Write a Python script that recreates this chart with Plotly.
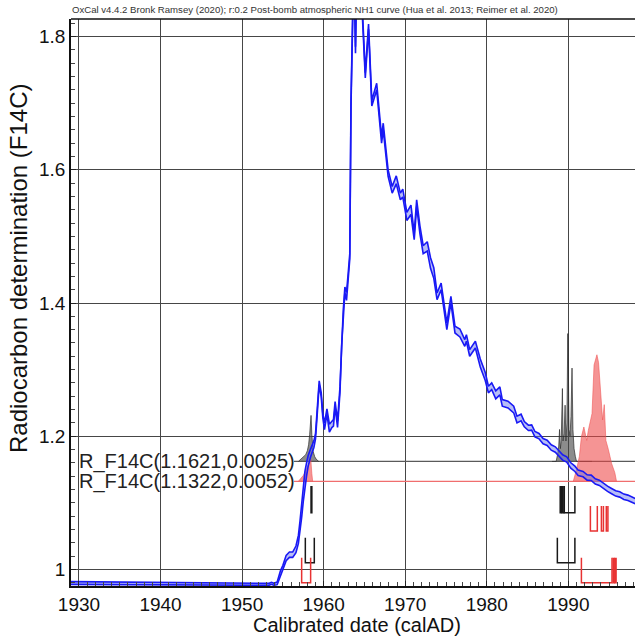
import plotly.graph_objects as go

# ---------------- data ----------------
curve_years = [1929.0, 1935.0, 1940.0, 1945.0, 1950.0, 1952.0, 1953.3, 1953.6, 1953.9, 1954.3,
               1954.7, 1955.0, 1955.4, 1955.8, 1956.2, 1956.6, 1956.9, 1957.1, 1957.3, 1957.5,
               1957.7, 1957.9, 1958.1, 1958.4, 1958.8, 1959.0, 1959.2, 1959.45, 1959.7, 1959.9,
               1960.1, 1960.4, 1960.7, 1961.0, 1961.2, 1961.4, 1961.7, 1962.0, 1962.2, 1962.4,
               1962.6, 1962.8, 1963.0, 1963.2, 1963.35, 1963.5, 1963.7, 1963.9, 1964.1, 1964.5,
               1964.8, 1965.1, 1965.5, 1965.9, 1966.5, 1967.1, 1967.3, 1967.9, 1968.4, 1968.9,
               1969.4, 1969.7, 1970.2, 1970.7, 1971.1, 1971.4, 1971.8, 1972.2, 1972.7, 1973.1,
               1973.5, 1973.9, 1974.4, 1975.1, 1975.6, 1976.1, 1976.7, 1977.3, 1977.5, 1977.9,
               1978.6, 1979.2, 1979.8, 1980.2, 1980.6, 1981.1, 1981.6, 1981.9, 1982.6, 1983.3,
               1983.7, 1984.2, 1984.6, 1985.1, 1985.5, 1985.9, 1986.4, 1986.9, 1987.4, 1987.9,
               1988.4, 1988.8, 1989.3, 1989.8, 1990.3, 1990.8, 1991.2, 1991.8, 1992.3, 1992.8,
               1993.3, 1993.8, 1994.3, 1994.8, 1995.3, 1995.8, 1996.3, 1996.8, 1997.3, 1998.2]
curve_f14c = [0.9795, 0.979, 0.9785, 0.978, 0.9775, 0.977, 0.9775, 0.979, 0.9775, 0.979,
              0.995, 1.003, 1.017, 1.022, 1.022, 1.030, 1.045, 1.065, 1.090, 1.115,
              1.135, 1.150, 1.163, 1.175, 1.188, 1.200, 1.235, 1.280, 1.262, 1.230,
              1.215, 1.237, 1.212, 1.218, 1.220, 1.248, 1.218, 1.270, 1.340, 1.385,
              1.420, 1.410, 1.440, 1.470, 1.700, 1.880, 1.920, 1.780, 1.930, 1.900,
              1.830, 1.742, 1.815, 1.700, 1.725, 1.645, 1.665, 1.595, 1.570, 1.585,
              1.560, 1.565, 1.530, 1.540, 1.500, 1.550, 1.510, 1.480, 1.485, 1.460,
              1.445, 1.410, 1.425, 1.365, 1.405, 1.360, 1.355, 1.340, 1.3475, 1.325,
              1.3375, 1.310, 1.290, 1.270, 1.275, 1.262, 1.268, 1.250, 1.2475, 1.240,
              1.225, 1.228, 1.218, 1.2125, 1.213, 1.203, 1.200, 1.1925, 1.190, 1.183,
              1.180, 1.174, 1.168, 1.165, 1.156, 1.151, 1.145, 1.143, 1.138, 1.1375,
              1.132, 1.130, 1.125, 1.121, 1.1175, 1.114, 1.1125, 1.109, 1.1075, 1.1025]
curve_sigma = [0.002, 0.002, 0.002, 0.0015, 0.0015, 0.0015, 0.0015, 0.0015, 0.0015, 0.002,
               0.003, 0.003, 0.004, 0.004, 0.004, 0.005, 0.006, 0.008, 0.012, 0.013,
               0.012, 0.010, 0.008, 0.006, 0.005, 0.004, 0.004, 0.003, 0.003, 0.003,
               0.005, 0.004, 0.006, 0.005, 0.005, 0.004, 0.005, 0.004, 0.004, 0.004,
               0.004, 0.006, 0.004, 0.004, 0.005, 0.005, 0.005, 0.005, 0.005, 0.005,
               0.005, 0.004, 0.004, 0.004, 0.005, 0.005, 0.005, 0.005, 0.005, 0.006,
               0.005, 0.006, 0.006, 0.007, 0.005, 0.005, 0.006, 0.006, 0.007, 0.008,
               0.008, 0.005, 0.005, 0.005, 0.005, 0.005, 0.006, 0.005, 0.005, 0.005,
               0.005, 0.006, 0.006, 0.005, 0.005, 0.006, 0.006, 0.005, 0.005, 0.005,
               0.005, 0.005, 0.004, 0.004, 0.004, 0.004, 0.004, 0.004, 0.004, 0.004,
               0.004, 0.004, 0.004, 0.004, 0.004, 0.004, 0.004, 0.004, 0.004, 0.004,
               0.004, 0.004, 0.004, 0.004, 0.004, 0.004, 0.004, 0.004, 0.004, 0.004]

title_text = ("OxCal v4.4.2 Bronk Ramsey (2020); r:0.2 Post-bomb atmospheric NH1 curve "
              "(Hua et al. 2013; Reimer et al. 2020)")
x_title = "Calibrated date (calAD)"
y_title = "Radiocarbon determination (F14C)"

s1_label = "R_F14C(1.1621,0.0025)"
s1_value = 1.1621
s2_label = "R_F14C(1.1322,0.0052)"
s2_value = 1.1322

# calibrated probability (relative to the tallest peak)
s1_dist_a_years = [1956.9, 1957.2, 1957.5, 1957.8, 1958.0, 1958.15, 1958.28, 1958.38, 1958.45,
                   1958.55, 1958.7, 1958.9, 1959.1, 1959.4]
s1_dist_a_prob = [0, 0.016, 0.032, 0.053, 0.084, 0.13, 0.21, 0.32, 0.36, 0.21, 0.08, 0.037, 0.016, 0]
s1_dist_b_years = [1988.0, 1988.5, 1988.7, 1988.82, 1988.92, 1989.02, 1989.12, 1989.22, 1989.27,
                   1989.35, 1989.48, 1989.6, 1989.7, 1989.82, 1989.93, 1989.98, 1990.08, 1990.2,
                   1990.32, 1990.45, 1990.56, 1990.7, 1990.85, 1991.0, 1992.9]
s1_dist_b_prob = [0, 0, 0.06, 0.12, 0.25, 0.10, 0.16, 0.45, 0.57, 0.16, 0.22, 0.44, 0.16, 0.30,
                  1.0, 0.85, 0.25, 0.20, 0.35, 0.73, 0.25, 0.10, 0.04, 0, 0]

s2_dist_a_years = [1956.9, 1957.2, 1957.5, 1957.8, 1958.05, 1958.3, 1958.42, 1958.55, 1958.65]
s2_dist_a_prob = [0, 0.02, 0.046, 0.082, 0.123, 0.164, 0.174, 0.06, 0]
s2_dist_b_years = [1990.6, 1991.0, 1991.35, 1991.6, 1991.9, 1992.25, 1992.45, 1992.9, 1993.15,
                   1993.5, 1993.7, 1993.95, 1994.2, 1994.4, 1994.6, 1994.9, 1995.3, 1995.7, 1995.9]
s2_dist_b_prob = [0, 0.092, 0.195, 0.35, 0.425, 0.32, 0.40, 0.53, 0.91, 0.99, 0.93, 0.66, 0.48,
                  0.60, 0.32, 0.25, 0.14, 0.067, 0]

# calibrated ranges (calAD)
s1_range68 = [(1958.45, 1958.55), (1989.0, 1989.15), (1989.25, 1989.45), (1989.5, 1990.8)]
s1_range95 = [(1957.75, 1958.85), (1988.65, 1990.8)]
s2_range68 = [(1992.7, 1993.55), (1994.05, 1994.3), (1994.65, 1994.85)]
s2_range95 = [(1957.3, 1958.4), (1991.6, 1995.35), (1995.5, 1995.6), (1995.7, 1995.85)]

# ---------------- styling / layout constants ----------------
X_RANGE = [1929.02, 1998.17]
Y_RANGE = [0.975, 1.8265]
DIST_SCALE = 0.192
LINE_START = 1956.35
FONT = "Liberation Sans, Arial, sans-serif"
BLUE = "rgb(25,25,245)"
BAND = "rgba(95,110,235,0.45)"
GRAY_FILL = "rgba(70,70,70,0.62)"
RED_FILL = "rgba(238,70,70,0.58)"
RED = "rgb(232,50,50)"
BLACK = "rgb(25,25,25)"
LEVELS = {"s1_68": (1.125, 1.085), "s2_68": (1.095, 1.0575),
          "s1_95": (1.0475, 1.01), "s2_95": (1.0175, 0.98)}

fig = go.Figure()

# horizontal measurement lines
fig.add_trace(go.Scatter(x=[LINE_START, X_RANGE[1]], y=[s1_value, s1_value], mode="lines",
                         line=dict(color="rgb(90,90,90)", width=1.2), hoverinfo="skip"))
fig.add_trace(go.Scatter(x=[LINE_START, X_RANGE[1]], y=[s2_value, s2_value], mode="lines",
                         line=dict(color="rgb(240,110,110)", width=1.2), hoverinfo="skip"))


def add_dist(years, prob, base, fill, line):
    xs = [years[0]] + list(years) + [years[-1]]
    ys = [base] + [base + p * DIST_SCALE for p in prob] + [base]
    fig.add_trace(go.Scatter(x=xs, y=ys, mode="lines", fill="toself", fillcolor=fill,
                             line=dict(color=line, width=0.8), hoverinfo="skip"))


add_dist(s1_dist_a_years, s1_dist_a_prob, s1_value, GRAY_FILL, "rgba(40,40,40,0.85)")
add_dist(s1_dist_b_years, s1_dist_b_prob, s1_value, GRAY_FILL, "rgba(40,40,40,0.85)")
add_dist(s2_dist_a_years, s2_dist_a_prob, s2_value, RED_FILL, "rgba(238,80,80,0.7)")
add_dist(s2_dist_b_years, s2_dist_b_prob, s2_value, RED_FILL, "rgba(238,80,80,0.7)")


def add_brackets(ranges, level, color):
    top, bot = LEVELS[level]
    xs, ys = [], []
    for a, b in ranges:
        xs += [a, a, b, b, None]
        ys += [top, bot, bot, top, None]
    fig.add_trace(go.Scatter(x=xs, y=ys, mode="lines", line=dict(color=color, width=1.5),
                             hoverinfo="skip"))


add_brackets(s1_range68, "s1_68", BLACK)
add_brackets(s2_range68, "s2_68", RED)
add_brackets(s1_range95, "s1_95", BLACK)
add_brackets(s2_range95, "s2_95", RED)

# calibration curve (+/- 1 sigma envelope)
upper = [c + s for c, s in zip(curve_f14c, curve_sigma)]
lower = [c - s for c, s in zip(curve_f14c, curve_sigma)]
fig.add_trace(go.Scatter(x=curve_years, y=upper, mode="lines",
                         line=dict(color=BLUE, width=1.6), hoverinfo="skip"))
fig.add_trace(go.Scatter(x=curve_years, y=lower, mode="lines", fill="tonexty", fillcolor=BAND,
                         line=dict(color=BLUE, width=1.6), hoverinfo="skip"))

annotations = [
    dict(text=s1_label, x=1929.8, y=s1_value, xref="x", yref="y", xanchor="left",
         yanchor="middle", showarrow=False, font=dict(size=20, color="#222", family=FONT)),
    dict(text=s2_label, x=1929.8, y=s2_value, xref="x", yref="y", xanchor="left",
         yanchor="middle", showarrow=False, font=dict(size=20, color="#222", family=FONT)),
    dict(text=title_text, x=0, y=1, xref="paper", yref="paper", xanchor="left", yanchor="middle",
         yshift=9.5, xshift=-1, showarrow=False, font=dict(size=9.6, color="#333", family=FONT)),
    dict(text=x_title, x=0.507, y=-0.0688, xref="paper", yref="paper", xanchor="center",
         yanchor="middle", showarrow=False, font=dict(size=20, color="#111", family=FONT)),
    dict(text=y_title, x=-0.092, y=0.561, xref="paper", yref="paper", xanchor="center",
         yanchor="middle", textangle=-90, showarrow=False,
         font=dict(size=24, color="#111", family=FONT)),
]

fig.update_layout(
    width=635, height=642,
    margin=dict(l=71, r=0, t=19, b=56, autoexpand=False),
    paper_bgcolor="white", plot_bgcolor="white",
    showlegend=False,
    font=dict(family=FONT, color="#111"),
    annotations=annotations,
    xaxis=dict(range=X_RANGE, tick0=1930, dtick=10, ticks="inside", ticklen=5,
               tickcolor="#222", showline=True, linecolor="#111", linewidth=1.5,
               showgrid=True, gridcolor="rgb(70,70,70)", gridwidth=1, zeroline=False,
               automargin=False, tickfont=dict(size=19, color="#111", family=FONT),
               minor=dict(dtick=1, ticks="inside", ticklen=4, tickcolor="#444", showgrid=False)),
    yaxis=dict(range=Y_RANGE, tick0=1.0, dtick=0.2, ticks="inside", ticklen=5,
               tickcolor="#222", showline=True, linecolor="#111", linewidth=1.5,
               showgrid=True, gridcolor="rgb(70,70,70)", gridwidth=1, zeroline=False,
               automargin=False, tickfont=dict(size=19, color="#111", family=FONT),
               minor=dict(dtick=0.02, ticks="inside", ticklen=4, tickcolor="#444", showgrid=False)),
    shapes=[dict(type="line", xref="paper", yref="paper", x0=0, x1=1, y0=1, y1=1,
                 line=dict(color="#111", width=1.5))],
)

# remove the default page margin so the figure fills the 635x642 window exactly
fig.write_html("out.html", config={"displayModeBar": False},
               post_script="document.body.style.margin='0px';")
